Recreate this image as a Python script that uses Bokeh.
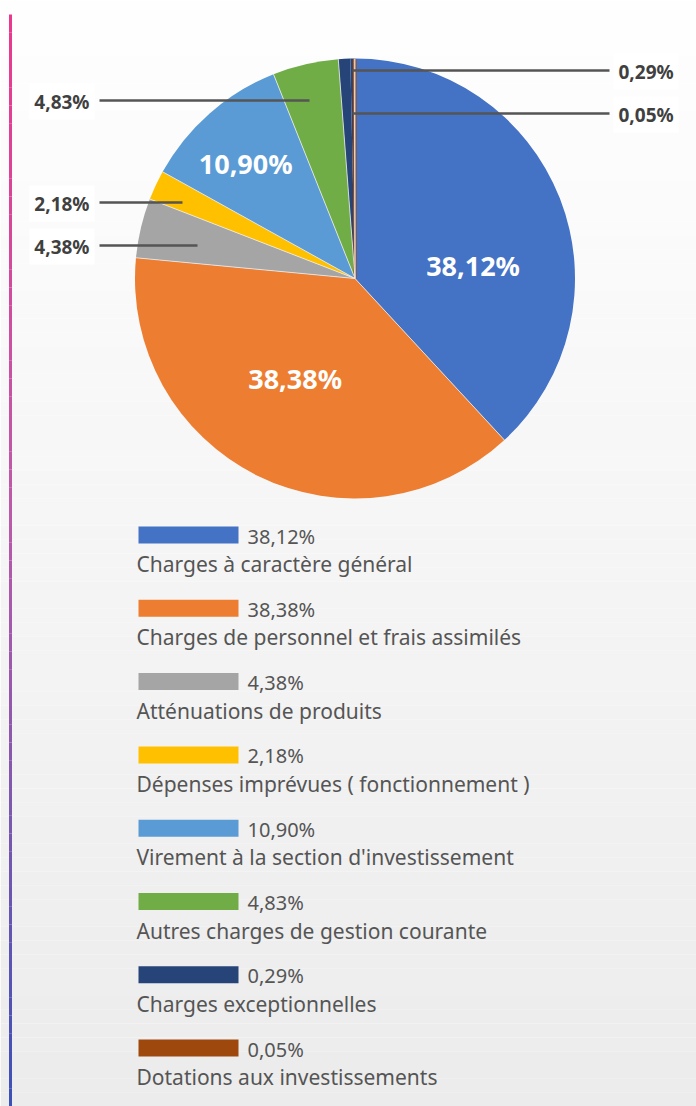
import numpy as np
from bokeh.plotting import figure
from bokeh.models import Range1d
from bokeh.embed import file_html
from bokeh.resources import INLINE
from bokeh.core.properties import value

# ---------------- data ----------------
categories = [
    "Charges à caractère général",
    "Charges de personnel et frais assimilés",
    "Atténuations de produits",
    "Dépenses imprévues ( fonctionnement )",
    "Virement à la section d'investissement",
    "Autres charges de gestion courante",
    "Charges exceptionnelles",
    "Dotations aux investissements",
]
shares = [38.12, 38.38, 4.38, 2.18, 10.90, 4.83, 0.29, 0.05]
share_labels = ["38,12%", "38,38%", "4,38%", "2,18%", "10,90%", "4,83%", "0,29%", "0,05%"]
colors = ["#4472C4", "#ED7D31", "#A5A5A5", "#FFC000", "#5B9BD5", "#70AD47", "#264478", "#9E480E"]

# ---------------- layout (pixel space, y measured from top) ----------------
W, H = 696, 1106
CX, CY, R = 354.5, 278, 220
FONT = "Noto Sans"

def Y(py):
    return H - py

p = figure(width=W, height=H, x_range=Range1d(0, W), y_range=Range1d(0, H),
           toolbar_location=None, output_backend="svg", min_border=0)
p.axis.visible = False
p.grid.visible = False
p.outline_line_color = None
p.background_fill_color = "white"
p.border_fill_color = "white"

# background vertical gradient
n = 80
edges = np.linspace(0, H, n + 1)
c0 = np.array([255, 255, 255]); c1 = np.array([236, 236, 236])
bg_cols = []
for i in range(n):
    t = (i + 0.5) / n
    c = (c0 + (c1 - c0) * t).astype(int)
    bg_cols.append("#%02x%02x%02x" % tuple(c))
p.quad(left=0, right=W, top=[Y(e) for e in edges[:-1]], bottom=[Y(e) for e in edges[1:]],
       fill_color=bg_cols, line_color=None)

# left gradient rule
m = 60
ys = np.linspace(14, H, m + 1)
stops = [(0.0, (236, 56, 142)), (0.45, (190, 90, 170)), (0.75, (120, 88, 176)), (1.0, (60, 80, 184))]
def grad(t):
    for (t0, a), (t1, b) in zip(stops[:-1], stops[1:]):
        if t <= t1:
            u = (t - t0) / (t1 - t0)
            return "#%02x%02x%02x" % tuple(int(a[k] + (b[k] - a[k]) * u) for k in range(3))
    return "#%02x%02x%02x" % stops[-1][1]
p.segment(x0=10, x1=10, y0=[Y(v) for v in ys[:-1]], y1=[Y(v) for v in ys[1:]],
          line_color=[grad((i + 0.5) / m) for i in range(m)], line_width=3)

# pie: percentages of 100; the unlabelled remainder sits with the dark-blue slice
other = 100.0 - sum(shares)
vals = shares[:6] + [other] + shares[6:]
vcols = colors[:6] + [colors[6]] + colors[6:]
fr = np.array(vals) / 100.0
cum = np.concatenate([[0], np.cumsum(fr)])
start = np.pi / 2 - 2 * np.pi * cum[:-1]
end = np.pi / 2 - 2 * np.pi * cum[1:]
p.wedge(x=CX, y=Y(CY), radius=R, start_angle=list(start), end_angle=list(end),
        direction="clock", fill_color=vcols, line_color=None)
# keep the tiny last slice visible
p.wedge(x=CX, y=Y(CY), radius=R - 1.5, start_angle=start[-1], end_angle=end[-1],
        direction="clock", fill_color=vcols[-1], line_color=vcols[-1], line_width=3)
# separators
sep = [k for k in range(len(vals)) if k != 7]
sa = np.pi / 2 - 2 * np.pi * cum[sep]
p.segment(x0=CX, y0=Y(CY), x1=CX + R * np.cos(sa), y1=Y(CY) + R * np.sin(sa),
          line_color="#eeeeee", line_width=0.8)

# inside labels for big slices
cum_s = np.concatenate([[0], np.cumsum(np.array(shares) / 100.0)])
mid = 2 * np.pi * (cum_s[:-1] + cum_s[1:]) / 2  # clockwise from top
inner = [0, 1, 4]
nudge = {0: (0.54, 0.26), 1: (0.53, 0.08), 4: (0.72, -0.04)}  # (radius frac, angle rad)
ix, iy, it = [], [], []
for i in inner:
    rf, da = nudge[i]
    a = mid[i] + da
    ix.append(CX + rf * R * np.sin(a))
    iy.append(Y(CY) + rf * R * np.cos(a))
    it.append(share_labels[i])
p.text(x=ix, y=iy, text=it, text_font=value(FONT), text_font_size="27px",
       text_font_style="bold", text_color="white", text_align="center", text_baseline="middle")

# outside labels with leader lines
left = [5, 3, 2]
left_y = [100, 202, 245]
left_end = [309, 182, 197]
p.segment(x0=99, x1=left_end, y0=[Y(v) for v in left_y], y1=[Y(v) for v in left_y],
          line_color="#555555", line_width=2.5)
p.text(x=94, y=[Y(v + 1) for v in left_y], text=[share_labels[i] for i in left],
       text_font=value(FONT), text_font_size="19px", text_font_style="bold",
       text_color="#404040", text_align="right", text_baseline="middle",
       background_fill_color="white", padding=5)

right = [6, 7]
right_y = [70, 113]
p.segment(x0=352, x1=609, y0=[Y(v) for v in right_y], y1=[Y(v) for v in right_y],
          line_color="#555555", line_width=2.5)
p.text(x=613, y=[Y(v + 1) for v in right_y], text=[share_labels[i] for i in right],
       text_font=value(FONT), text_font_size="19px", text_font_style="bold",
       text_color="#404040", text_align="left", text_baseline="middle",
       background_fill_color="white", padding=5)

# legend
step = 73.3
bar_y = [534.5 + step * i for i in range(len(categories))]
p.quad(left=138, right=238, top=[Y(v - 8.5) for v in bar_y], bottom=[Y(v + 8.5) for v in bar_y],
       fill_color=colors, line_color=None)
p.text(x=247, y=[Y(v + 1) for v in bar_y], text=share_labels, text_font=value(FONT),
       text_font_size="20px", text_color="#555555", text_align="left", text_baseline="middle")
p.text(x=136, y=[Y(v + 29) for v in bar_y], text=categories, text_font=value(FONT),
       text_font_size="21px", text_color="#555555", text_align="left", text_baseline="middle")

open("out.html", "w").write(file_html(p, INLINE))
